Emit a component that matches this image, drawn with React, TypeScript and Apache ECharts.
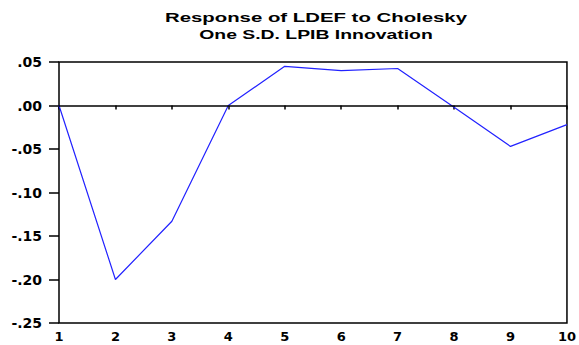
import React, { useEffect, useRef } from "react";
import * as echarts from "echarts";

const titleLines = ["Response of LDEF to Cholesky", "One S.D. LPIB Innovation"];
const periods = [1, 2, 3, 4, 5, 6, 7, 8, 9, 10];
const response = [0.0, -0.2, -0.133, 0.0, 0.045, 0.04, 0.0425, -0.002, -0.047, -0.022];

const fmt = (v: number) => {
  const s = Math.abs(v).toFixed(2).replace(/^0/, "");
  return (v < -1e-9 ? "-" : "") + s;
};

export default function App() {
  const ref = useRef<HTMLDivElement>(null);
  useEffect(() => {
    if (!ref.current) return;
    const chart = echarts.init(ref.current, null, { renderer: "svg" });
    const labelFont = {
      fontFamily: "DejaVu Sans",
      fontWeight: "bold" as const,
      color: "#000",
    };
    const titleScale = [1.63, 1.55];
    chart.setOption({
      animation: false,
      backgroundColor: "#fff",
      graphic: titleLines.map((t, i) => ({
        type: "text",
        x: 316,
        y: 18 + i * 16,
        scaleX: titleScale[i],
        silent: true,
        style: {
          text: t,
          fontFamily: "Liberation Sans",
          fontWeight: "bold",
          fontSize: 12.5,
          fill: "#000",
          align: "center",
          verticalAlign: "middle",
        },
      })),
      grid: {
        left: 59,
        right: 7,
        top: 62,
        bottom: 22,
        show: true,
        borderColor: "#000",
        borderWidth: 1.5,
        backgroundColor: "#fff",
      },
      xAxis: {
        type: "value",
        min: 1,
        max: 10,
        interval: 1,
        axisLine: { show: false },
        axisTick: { show: true, inside: false, length: 4, lineStyle: { color: "#000", width: 1.5 } },
        axisLabel: { ...labelFont, fontSize: 13, margin: 7 },
        splitLine: { show: false },
      },
      yAxis: {
        type: "value",
        min: -0.25,
        max: 0.05,
        interval: 0.05,
        axisLine: { show: false },
        axisTick: { show: true, inside: false, length: 10, lineStyle: { color: "#000", width: 1.5 } },
        axisLabel: { ...labelFont, fontSize: 14, margin: 17, formatter: (v: number) => fmt(v) },
        splitLine: { show: false },
      },
      series: [
        {
          type: "line",
          data: periods.map((p, i) => [p, response[i]]),
          symbol: "none",
          lineStyle: { color: "#2222ff", width: 1.2 },
          markLine: {
            silent: true,
            symbol: "none",
            label: { show: false },
            lineStyle: { color: "#000", width: 1.5, type: "solid" },
            data: [{ yAxis: 0 }],
          },
        },
      ],
    });
    return () => chart.dispose();
  }, []);
  return <div ref={ref} style={{ width: 579, height: 345, position: "absolute", left: 0, top: 0 }} />;
}
